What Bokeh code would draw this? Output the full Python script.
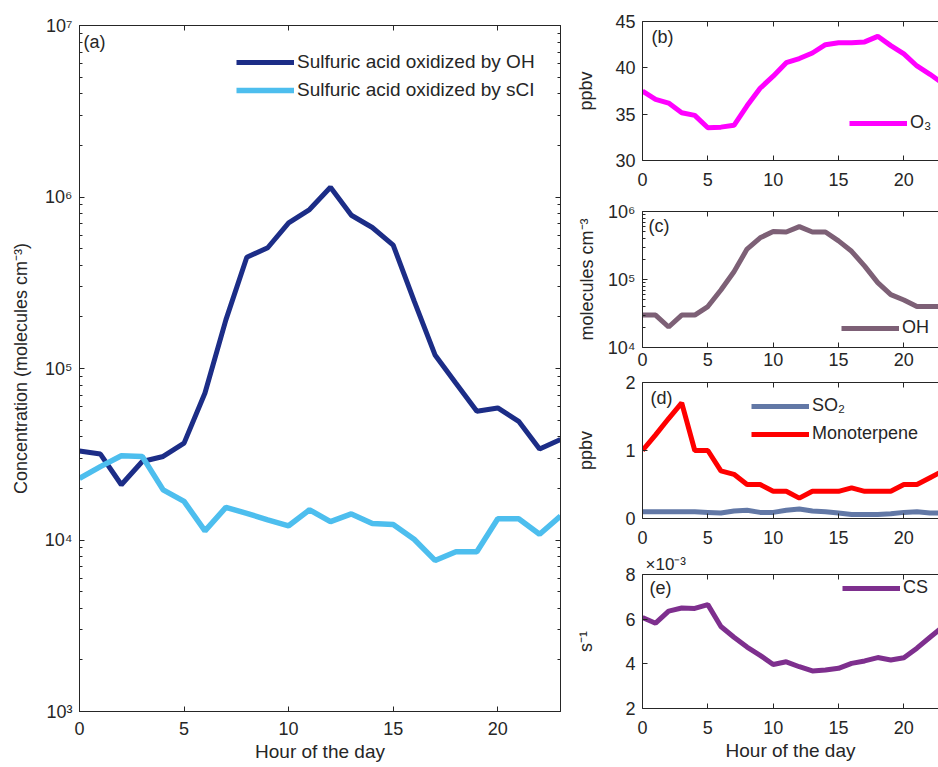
from bokeh.plotting import figure
from bokeh.layouts import row, column
from bokeh.models import (FixedTicker, LinearAxis, LogAxis, Label, Range1d,
                          CustomJSTickFormatter)
from bokeh.embed import file_html
from bokeh.resources import INLINE

# ---------------- data ----------------
hours = list(range(24))
h2so4_oh = [3.3e4, 3.17e4, 2.1e4, 2.87e4, 3.07e4, 3.67e4, 7.2e4, 1.92e5, 4.45e5, 5.06e5,
            7.06e5, 8.45e5, 1.14e6, 7.83e5, 6.64e5, 5.24e5, 2.48e5, 1.2e5, 8.2e4, 5.63e4,
            5.89e4, 4.92e4, 3.39e4, 3.85e4]
h2so4_sci = [2.29e4, 2.68e4, 3.1e4, 3.07e4, 1.96e4, 1.68e4, 1.13e4, 1.55e4, 1.43e4, 1.31e4,
             1.21e4, 1.5e4, 1.28e4, 1.42e4, 1.25e4, 1.23e4, 1.01e4, 7.6e3, 8.55e3, 8.55e3,
             1.33e4, 1.33e4, 1.08e4, 1.38e4]
o3 = [37.5, 36.6, 36.2, 35.15, 34.87, 33.53, 33.6, 33.8, 35.9, 37.8, 39.1, 40.56,
      41.0, 41.6, 42.5, 42.7, 42.7, 42.8, 43.4, 42.4, 41.5, 40.2, 39.3, 38.3]
oh = [3e4, 3e4, 2e4, 3e4, 3e4, 4e4, 7e4, 1.3e5, 2.8e5, 4.1e5, 5.1e5, 5e5,
      6e5, 5e5, 5e5, 3.7e5, 2.6e5, 1.57e5, 9e4, 6e4, 5e4, 4e4, 4e4, 4e4]
so2 = [0.10, 0.10, 0.10, 0.10, 0.10, 0.09, 0.08, 0.11, 0.12, 0.09, 0.09, 0.12,
       0.14, 0.11, 0.10, 0.08, 0.06, 0.06, 0.06, 0.07, 0.09, 0.10, 0.08, 0.08]
monoterpene = [1.0, 1.23, 1.47, 1.7, 1.0, 1.0, 0.7, 0.65, 0.5, 0.5, 0.4, 0.4,
               0.3, 0.4, 0.4, 0.4, 0.45, 0.4, 0.4, 0.4, 0.5, 0.5, 0.6, 0.7]
cs = [6.07e-3, 5.82e-3, 6.36e-3, 6.5e-3, 6.48e-3, 6.65e-3, 5.67e-3, 5.19e-3, 4.75e-3,
      4.38e-3, 3.97e-3, 4.09e-3, 3.87e-3, 3.68e-3, 3.72e-3, 3.8e-3, 4.02e-3, 4.13e-3,
      4.28e-3, 4.17e-3, 4.27e-3, 4.7e-3, 5.19e-3, 5.67e-3]

hour_ticks = [0, 5, 10, 15, 20]
main_decades = [1e3, 1e4, 1e5, 1e6, 1e7]
oh_decades = [1e4, 1e5, 1e6]
o3_ticks = [30, 35, 40, 45]
ppbv_ticks = [0, 1, 2]
cs_ticks = [0.002, 0.004, 0.006, 0.008]

# ---------------- style ----------------
FONT = "Liberation Sans"
AX = "#262626"
C_OH_H2SO4 = "#1C2D87"
C_SCI = "#4DBEEE"
C_O3 = "#FF00FF"
C_OH = "#7D6076"
C_SO2 = "#6278A6"
C_MT = "#FF0000"
C_CS = "#7E2F8E"

SUP = CustomJSTickFormatter(code="""
const s = {'0':'\u2070','1':'\u00b9','2':'\u00b2','3':'\u00b3','4':'\u2074','5':'\u2075',
           '6':'\u2076','7':'\u2077','8':'\u2078','9':'\u2079','-':'\u207b'};
const e = Math.round(Math.log10(tick));
return '10' + String(e).split('').map(c => s[c]).join('');
""")


def minors(decades):
    return [m * d for d in decades[:-1] for m in range(2, 10)]


def style_axis(ax, size, label_size=None, standoff=7, label_standoff=5):
    ax.axis_line_color = AX
    ax.axis_line_width = 1
    ax.major_tick_line_color = AX
    ax.minor_tick_line_color = AX
    ax.major_tick_in = 5
    ax.major_tick_out = 0
    ax.minor_tick_in = 3
    ax.minor_tick_out = 0
    ax.major_label_text_font = FONT
    ax.major_label_text_font_size = size
    ax.major_label_text_color = AX
    ax.major_label_standoff = standoff
    ax.axis_label_text_font = FONT
    ax.axis_label_text_font_style = "normal"
    ax.axis_label_text_font_size = label_size or size
    ax.axis_label_text_color = AX
    ax.axis_label_standoff = label_standoff


def hidden_axis(ax):
    style_axis(ax, "0px", standoff=0)
    ax.major_label_text_alpha = 0


def style_legend(leg, loc, size, spacing=7):
    leg.location = loc
    leg.border_line_color = None
    leg.background_fill_alpha = 0
    leg.padding = 0
    leg.margin = 0
    leg.spacing = spacing
    leg.glyph_width = 58
    leg.glyph_height = 20
    leg.label_height = 20
    leg.label_standoff = 3
    leg.label_text_font = FONT
    leg.label_text_font_size = size
    leg.label_text_color = AX


def panel_label(p, text, x, y, size="18px"):
    p.add_layout(Label(x=x, y=y, x_units="screen", y_units="screen", text=text,
                       text_font=FONT, text_font_size=size, text_color=AX,
                       text_baseline="middle", text_align="left"))


# ---------------- main panel (a) ----------------
pa = figure(width=566, height=767, y_axis_type="log", x_range=Range1d(0, 23),
            y_range=Range1d(1e3, 1e7), output_backend="svg", toolbar_location=None,
            title=None, min_border_left=79, min_border_right=6, min_border_top=25,
            min_border_bottom=56)
pa.xgrid.visible = False
pa.ygrid.visible = False
pa.outline_line_color = AX
pa.background_fill_color = "white"
pa.border_fill_color = "white"

pa.line(hours, h2so4_oh, line_color=C_OH_H2SO4, line_width=5,
        legend_label="Sulfuric acid oxidized by OH")
pa.line(hours, h2so4_sci, line_color=C_SCI, line_width=5.5,
        legend_label="Sulfuric acid oxidized by sCI")

xa = pa.below[0]
xa.ticker = FixedTicker(ticks=hour_ticks)
xa.axis_label = "Hour of the day"
style_axis(xa, "18px", label_size="19px", standoff=10, label_standoff=3)
ya = pa.left[0]
ya.ticker = FixedTicker(ticks=main_decades, minor_ticks=minors(main_decades))
ya.formatter = SUP
ya.axis_label = "Concentration (molecules cm\u207b\u00b3)"
style_axis(ya, "18px", standoff=7, label_standoff=11)

top_a = LinearAxis(ticker=FixedTicker(ticks=hour_ticks))
hidden_axis(top_a)
pa.add_layout(top_a, "above")
right_a = LogAxis(ticker=FixedTicker(ticks=main_decades, minor_ticks=minors(main_decades)))
hidden_axis(right_a)
pa.add_layout(right_a, "right")

style_legend(pa.legend[0], (157, 610), "19px", spacing=6)
panel_label(pa, "(a)", 4, 670)


# ---------------- right panels ----------------
XR = 22.65


def small(height, top, bottom, y_range, log=False, title=None):
    p = figure(width=372, height=height, x_range=Range1d(0, XR), y_range=y_range,
               y_axis_type="log" if log else "linear", output_backend="svg",
               toolbar_location=None, title=title, min_border_left=76,
               min_border_right=0, min_border_top=top, min_border_bottom=bottom)
    p.xgrid.visible = False
    p.ygrid.visible = False
    p.outline_line_color = None
    p.background_fill_color = "white"
    p.border_fill_color = "white"
    p.below[0].ticker = FixedTicker(ticks=hour_ticks)
    top_ax = LinearAxis(ticker=FixedTicker(ticks=hour_ticks))
    hidden_axis(top_ax)
    p.add_layout(top_ax, "above")
    return p


# (b) O3
pb = small(194, 21, 34, Range1d(30, 45))
pb.line(hours, o3, line_color=C_O3, line_width=5, legend_label="O\u2083")
style_axis(pb.below[0], "18px", standoff=12)
pb.left[0].ticker = FixedTicker(ticks=o3_ticks)
pb.left[0].axis_label = "ppbv"
style_axis(pb.left[0], "18px", standoff=7, label_standoff=16)
style_legend(pb.legend[0], (207, 27), "18px")
panel_label(pb, "(b)", 9, 124)

# (c) OH
pc = small(180, 17, 27, Range1d(1e4, 1e6), log=True)
pc.line(hours, oh, line_color=C_OH, line_width=5, legend_label="OH")
style_axis(pc.below[0], "18px", standoff=5)
pc.left[0].ticker = FixedTicker(ticks=oh_decades, minor_ticks=minors(oh_decades))
pc.left[0].formatter = SUP
pc.left[0].axis_label = "molecules cm\u207b\u00b3"
style_axis(pc.left[0], "18px", standoff=7, label_standoff=8)
style_legend(pc.legend[0], (199, 9), "18px")
panel_label(pc, "(c)", 6, 122)

# (d) SO2 and monoterpene
pd_ = small(178, 8, 34, Range1d(0, 2))
pd_.line(hours, so2, line_color=C_SO2, line_width=5, legend_label="SO\u2082")
pd_.line(hours, monoterpene, line_color=C_MT, line_width=5, legend_label="Monoterpene")
style_axis(pd_.below[0], "18px", standoff=12)
pd_.left[0].ticker = FixedTicker(ticks=ppbv_ticks)
pd_.left[0].axis_label = "ppbv"
style_axis(pd_.left[0], "18px", standoff=7, label_standoff=26)
style_legend(pd_.legend[0], (109, 74), "18px")
panel_label(pd_, "(d)", 8, 121)

# (e) condensation sink
pe = small(215, 20, 59, Range1d(0.002, 0.008), title="\u00d710\u207b\u00b3")
pe.title.align = "left"
pe.title.offset = 3
pe.title.standoff = 1
pe.title.text_font = FONT
pe.title.text_font_size = "17px"
pe.title.text_font_style = "normal"
pe.title.text_color = AX
pe.line(hours, cs, line_color=C_CS, line_width=5, legend_label="CS")
pe.below[0].axis_label = "Hour of the day"
style_axis(pe.below[0], "18px", label_size="19px", standoff=12, label_standoff=3)
pe.left[0].ticker = FixedTicker(ticks=cs_ticks)
pe.left[0].formatter = CustomJSTickFormatter(code="return (tick * 1000).toFixed(0);")
pe.left[0].axis_label = "s\u207b\u00b9"
style_axis(pe.left[0], "18px", standoff=7, label_standoff=26)
style_legend(pe.legend[0], (200, 110), "18px")
panel_label(pe, "(e)", 7, 121)

layout = row(pa, column(pb, pc, pd_, pe, spacing=0), spacing=0)

open("out.html", "w").write(file_html(layout, INLINE))
